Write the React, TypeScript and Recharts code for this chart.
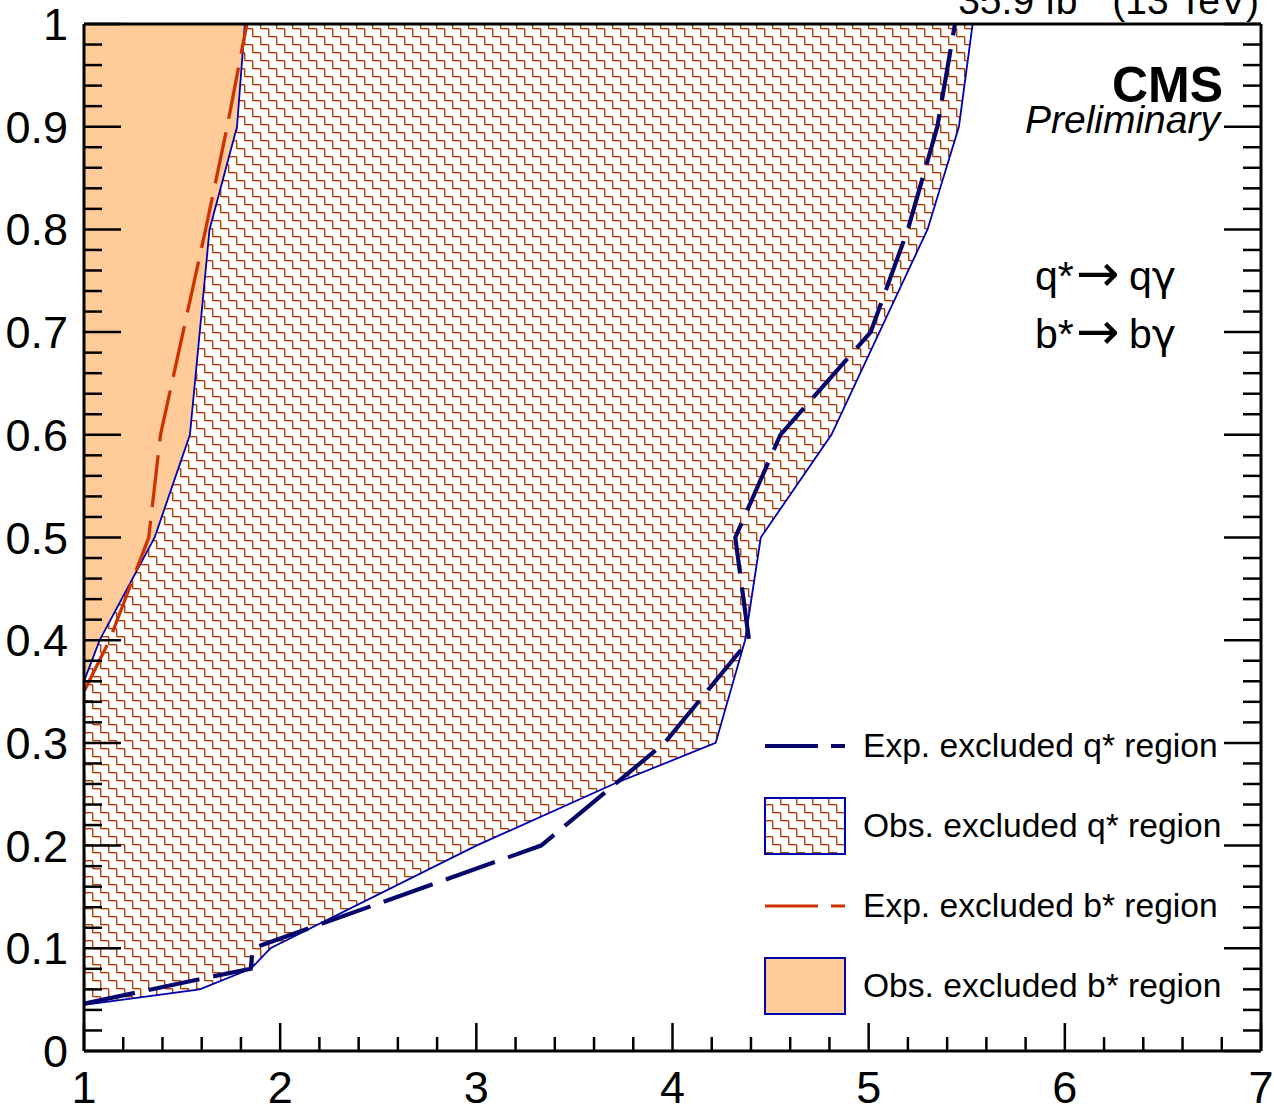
import React from 'react';
import { ComposedChart, Scatter, XAxis, YAxis, Legend } from 'recharts';

// ---------- data ----------
const xMajorTicks = [1, 2, 3, 4, 5, 6, 7];
const yMajorTicks = [0, 0.1, 0.2, 0.3, 0.4, 0.5, 0.6, 0.7, 0.8, 0.9, 1];
const xTickLabels = ['1', '2', '3', '4', '5', '6', '7'];
const yTickLabels = ['0', '0.1', '0.2', '0.3', '0.4', '0.5', '0.6', '0.7', '0.8', '0.9', '1'];

// observed excluded q* region (polygon)
const obsQ = [
  { x: 1.0, y: 0.045 },
  { x: 1.59, y: 0.06 },
  { x: 1.85, y: 0.08 },
  { x: 1.95, y: 0.1 },
  { x: 3.0, y: 0.2 },
  { x: 3.7, y: 0.26 },
  { x: 4.22, y: 0.3 },
  { x: 4.37, y: 0.4 },
  { x: 4.45, y: 0.5 },
  { x: 4.81, y: 0.6 },
  { x: 5.3, y: 0.8 },
  { x: 5.46, y: 0.9 },
  { x: 5.53, y: 1.0 },
  { x: 1.0, y: 1.0 },
];

// observed excluded b* region (polygon)
const obsB = [
  { x: 1.0, y: 0.36 },
  { x: 1.08, y: 0.4 },
  { x: 1.36, y: 0.5 },
  { x: 1.54, y: 0.6 },
  { x: 1.64, y: 0.8 },
  { x: 1.78, y: 0.9 },
  { x: 1.82, y: 1.0 },
  { x: 1.0, y: 1.0 },
];

// expected excluded q* contour
const expQ = [
  { x: 1.0, y: 0.046 },
  { x: 1.59, y: 0.07 },
  { x: 1.85, y: 0.08 },
  { x: 1.86, y: 0.1 },
  { x: 3.33, y: 0.2 },
  { x: 3.96, y: 0.3 },
  { x: 4.39, y: 0.4 },
  { x: 4.32, y: 0.5 },
  { x: 4.55, y: 0.6 },
  { x: 5.01, y: 0.7 },
  { x: 5.2, y: 0.8 },
  { x: 5.35, y: 0.9 },
  { x: 5.44, y: 1.0 },
];

// expected excluded b* contour
const expB = [
  { x: 1.0, y: 0.35 },
  { x: 1.13, y: 0.4 },
  { x: 1.33, y: 0.5 },
  { x: 1.39, y: 0.6 },
  { x: 1.62, y: 0.8 },
  { x: 1.73, y: 0.9 },
  { x: 1.83, y: 1.0 },
];

const legendLabels = [
  'Exp. excluded q* region',
  'Obs. excluded q* region',
  'Exp. excluded b* region',
  'Obs. excluded b* region',
];

// ---------- styles ----------
const NAVY = '#07076b';
const OBS_BLUE = '#0000b0';
const RED = '#cc3300';
const ORANGE = '#ffcc99';
const HATCH_DARK = '#b0440e';
const HATCH_LIGHT = '#deb096';
const FONT = '"Liberation Sans", Arial, Helvetica, sans-serif';

const W = 1274;
const H = 1108;

// minor ticks (subdivisions between major ticks)
const xTicks: number[] = [];
for (let i = 0; i < xMajorTicks.length - 1; i++) {
  for (let k = 0; k < 5; k++) xTicks.push(+(xMajorTicks[i] + (k * (xMajorTicks[i + 1] - xMajorTicks[i])) / 5).toFixed(4));
}
xTicks.push(xMajorTicks[xMajorTicks.length - 1]);
const yTicks: number[] = [];
for (let i = 0; i < yMajorTicks.length - 1; i++) {
  for (let k = 0; k < 5; k++) yTicks.push(+(yMajorTicks[i] + (k * (yMajorTicks[i + 1] - yMajorTicks[i])) / 5).toFixed(4));
}
yTicks.push(yMajorTicks[yMajorTicks.length - 1]);

const isMajorX = (v: number) => xMajorTicks.some((m) => Math.abs(m - v) < 1e-6);
const isMajorY = (v: number) => yMajorTicks.some((m) => Math.abs(m - v) < 1e-6);
const xLabel = (v: number) => xTickLabels[xMajorTicks.findIndex((m) => Math.abs(m - v) < 1e-6)];
const yLabel = (v: number) => yTickLabels[yMajorTicks.findIndex((m) => Math.abs(m - v) < 1e-6)];

const TICK_W = 2.5;

const BottomTick = (props: any) => {
  const { x, y, payload } = props;
  const v = payload.value;
  const major = isMajorX(v);
  return (
    <g>
      <line x1={x} x2={x} y1={y} y2={y - (major ? 28 : 14)} stroke="#000" strokeWidth={TICK_W} />
      {major && (
        <text x={x} y={y + 52} textAnchor="middle" fontSize={45} fontFamily={FONT} fill="#000">
          {xLabel(v)}
        </text>
      )}
    </g>
  );
};

const TopTick = (props: any) => {
  const { x, y, payload } = props;
  const major = isMajorX(payload.value);
  return <line x1={x} x2={x} y1={y} y2={y + (major ? 28 : 14)} stroke="#000" strokeWidth={TICK_W} />;
};

const LeftTick = (props: any) => {
  const { x, y, payload } = props;
  const v = payload.value;
  const major = isMajorY(v);
  return (
    <g>
      <line x1={x} x2={x + (major ? 37 : 18)} y1={y} y2={y} stroke="#000" strokeWidth={TICK_W} />
      {major && (
        <text x={x - 16} y={y + 16} textAnchor="end" fontSize={45} fontFamily={FONT} fill="#000">
          {yLabel(v)}
        </text>
      )}
    </g>
  );
};

const RightTick = (props: any) => {
  const { x, y, payload } = props;
  const major = isMajorY(payload.value);
  return <line x1={x} x2={x - (major ? 37 : 18)} y1={y} y2={y} stroke="#000" strokeWidth={TICK_W} />;
};

const HatchPattern = ({ id }: { id: string }) => (
  <pattern id={id} patternUnits="userSpaceOnUse" width={16} height={16}>
    <rect width={16} height={16} fill="#ffffff" />
    <path d="M0 5.5 H5.5 V13.5 H13.5 V16 M13.5 0 V5.5 H16" fill="none" stroke={HATCH_LIGHT} strokeWidth={1} />
    <path d="M0 4.5 H4.5 V12.5 H12.5 V16 M12.5 0 V4.5 H16" fill="none" stroke={HATCH_DARK} strokeWidth={1.1} />
  </pattern>
);

const polyPath = (points: { x: number; y: number }[]) =>
  points.map((p, i) => `${i === 0 ? 'M' : 'L'}${p.x},${p.y}`).join(' ') + ' Z';
const linePath = (points: { x: number; y: number }[]) =>
  points.map((p, i) => `${i === 0 ? 'M' : 'L'}${p.x},${p.y}`).join(' ');

const hatchPolygon = (props: any) => (
  <g>
    <defs>
      <HatchPattern id="qHatch" />
    </defs>
    <path d={polyPath(props.points)} fill="url(#qHatch)" stroke={OBS_BLUE} strokeWidth={1.8} strokeLinejoin="miter" />
  </g>
);

const orangePolygon = (props: any) => (
  <path d={polyPath(props.points)} fill={ORANGE} stroke={OBS_BLUE} strokeWidth={1.8} />
);

const dashedLine = (color: string, width: number) => (props: any) => (
  <path d={linePath(props.points)} fill="none" stroke={color} strokeWidth={width} strokeDasharray="52 14" />
);

const noShape = () => <g />;

const LegendContent = () => {
  const x0 = 765;
  const x1 = 845;
  return (
    <svg width={W} height={H} style={{ position: 'absolute', left: 0, top: 0 }}>
      <defs>
        <HatchPattern id="legHatch" />
      </defs>
      {legendLabels.map((lab, i) => {
        const cy = 746 + i * 80;
        let sym: React.ReactNode = null;
        if (i === 0 || i === 2) {
          sym = (
            <line x1={x0} x2={x1} y1={cy} y2={cy} stroke={i === 0 ? NAVY : RED} strokeWidth={i === 0 ? 4 : 3} strokeDasharray="53 13" />
          );
        } else {
          sym = (
            <rect x={x0} y={cy - 28} width={x1 - x0} height={56} fill={i === 1 ? 'url(#legHatch)' : ORANGE} stroke={OBS_BLUE} strokeWidth={2} />
          );
        }
        return (
          <g key={lab}>
            {sym}
            <text x={863} y={cy + 11} fontSize={33.6} fontFamily={FONT} fill="#000">
              {lab}
            </text>
          </g>
        );
      })}
    </svg>
  );
};

export default function App() {
  return (
    <div style={{ position: 'absolute', left: 0, top: 0, width: W, height: H, background: '#fff', fontFamily: FONT }}>
      <ComposedChart width={W} height={H} margin={{ top: 23, right: 12, bottom: 56, left: 83 }}>
        <Scatter data={obsQ} dataKey="y" shape={noShape} line={hatchPolygon} lineType="joint" isAnimationActive={false} />
        <Scatter data={obsB} dataKey="y" shape={noShape} line={orangePolygon} lineType="joint" isAnimationActive={false} />
        <Scatter data={expB} dataKey="y" shape={noShape} line={dashedLine(RED, 3.3)} lineType="joint" isAnimationActive={false} />
        <Scatter data={expQ} dataKey="y" shape={noShape} line={dashedLine(NAVY, 4.2)} lineType="joint" isAnimationActive={false} />

        <XAxis
          xAxisId={0}
          dataKey="x"
          type="number"
          domain={[1, 7]}
          allowDataOverflow
          ticks={xTicks}
          interval={0}
          height={1}
          tickSize={0}
          tickMargin={0}
          tick={BottomTick}
          axisLine={{ stroke: '#000', strokeWidth: 3 }}
          zIndex={1000}
        />
        <XAxis
          xAxisId="top"
          orientation="top"
          type="number"
          domain={[1, 7]}
          allowDataOverflow
          ticks={xTicks}
          interval={0}
          height={1}
          tickSize={0}
          tickMargin={0}
          tick={TopTick}
          axisLine={{ stroke: '#000', strokeWidth: 3 }}
          zIndex={1000}
        />
        <YAxis
          yAxisId={0}
          dataKey="y"
          type="number"
          domain={[0, 1]}
          allowDataOverflow
          ticks={yTicks}
          interval={0}
          width={1}
          tickSize={0}
          tickMargin={0}
          tick={LeftTick}
          axisLine={{ stroke: '#000', strokeWidth: 3 }}
          zIndex={1000}
        />
        <YAxis
          yAxisId="right"
          orientation="right"
          type="number"
          domain={[0, 1]}
          allowDataOverflow
          ticks={yTicks}
          interval={0}
          width={1}
          tickSize={0}
          tickMargin={0}
          tick={RightTick}
          axisLine={{ stroke: '#000', strokeWidth: 3 }}
          zIndex={1000}
        />
        <Legend layout="horizontal" verticalAlign="middle" align="center" content={LegendContent}
          wrapperStyle={{ position: 'absolute', left: 0, top: 0, width: W, height: H, pointerEvents: 'none' }} />

        <text x={1259} y={14} textAnchor="end" fontSize={39} fontFamily={FONT} fill="#000">
          35.9 fb<tspan dy={-15} fontSize={27}>-1</tspan><tspan dy={15}> (13 TeV)</tspan>
        </text>
        <text x={1223} y={102} textAnchor="end" fontSize={50} fontWeight="bold" fontFamily={FONT} fill="#000">
          CMS
        </text>
        <text x={1220} y={133} textAnchor="end" fontSize={39} fontStyle="italic" fontFamily={FONT} fill="#000">
          Preliminary
        </text>
        <text x={1035} y={290} fontSize={41} fontFamily={FONT} fill="#000">
          q*
          <tspan x={1076} dy={1} fontFamily='"DejaVu Sans"' fontSize={52}>→</tspan>
          <tspan x={1129} dy={-1}>q</tspan>
          <tspan fontFamily='"DejaVu Sans"'>γ</tspan>
        </text>
        <text x={1035} y={348} fontSize={41} fontFamily={FONT} fill="#000">
          b*
          <tspan x={1076} dy={1} fontFamily='"DejaVu Sans"' fontSize={52}>→</tspan>
          <tspan x={1129} dy={-1}>b</tspan>
          <tspan fontFamily='"DejaVu Sans"'>γ</tspan>
        </text>
      </ComposedChart>
    </div>
  );
}
